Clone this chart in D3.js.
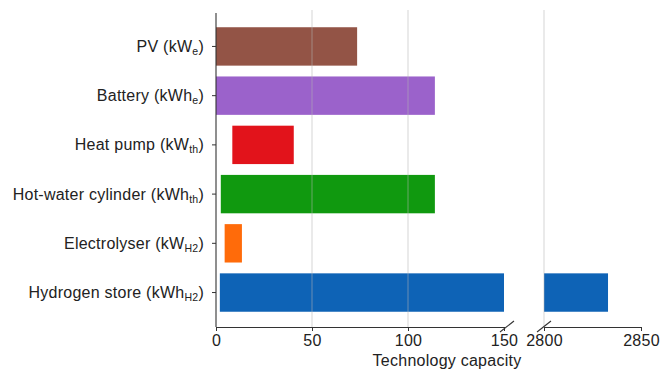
<!DOCTYPE html>
<html>
<head>
<meta charset="utf-8">
<script src="https://cdn.jsdelivr.net/npm/d3@7"></script>
<style>
  html, body { margin: 0; padding: 0; background: #fff; }
  svg { display: block; font-family: "Liberation Sans", Arial, Helvetica, sans-serif; }
</style>
</head>
<body>
<svg id="chart" width="660" height="373"></svg>
<script>
// Technology capacity ranges (minimum to maximum) per component
const technologies = ["PV", "Battery", "Heat pump", "Hot-water cylinder", "Electrolyser", "Hydrogen store"];
const unitBase = ["kW", "kWh", "kW", "kWh", "kW", "kWh"];
const unitSub = ["e", "e", "th", "th", "H2", "H2"];
const capacityMin = [0, 0, 8.5, 2.5, 4.5, 2];
const capacityMax = [73.5, 114, 40.5, 114, 13.5, 2833];
const barColors = ["#935446", "#9b62cb", "#e2131b", "#10990f", "#ff6b0a", "#0e63b6"];

// Broken x axis: two segments sharing the same scale
const leftTicks = [0, 50, 100, 150];
const rightTicks = [2800, 2850];
const leftDomain = [0, 150];
const rightDomain = [2800, 2850];
const gridValues = [50, 100, 2800];

const svg = d3.select("#chart");
const plotTop = 11, plotBottom = 327;
const xL = d3.scaleLinear().domain(leftDomain).range([216, 504]);
const xR = d3.scaleLinear().domain(rightDomain).range([544, 641]);
const y = d3.scaleLinear().domain([-0.72, 5.7]).range([plotTop, plotBottom]);
const barH = 0.78;
const textColor = "#222";
const fontSize = 16;
const letterSpacing = 0.25;

// bars, left segment
const idx = d3.range(technologies.length);
svg.append("g").selectAll("rect").data(idx).join("rect")
  .attr("x", i => xL(Math.max(capacityMin[i], leftDomain[0])))
  .attr("width", i => xL(Math.min(capacityMax[i], leftDomain[1])) - xL(Math.max(capacityMin[i], leftDomain[0])))
  .attr("y", i => y(i - barH / 2))
  .attr("height", i => y(barH) - y(0))
  .attr("fill", i => barColors[i]);

// bars, right segment (only those reaching beyond the break)
svg.append("g").selectAll("rect").data(idx.filter(i => capacityMax[i] > rightDomain[0])).join("rect")
  .attr("x", i => xR(Math.max(capacityMin[i], rightDomain[0])))
  .attr("width", i => xR(Math.min(capacityMax[i], rightDomain[1])) - xR(Math.max(capacityMin[i], rightDomain[0])))
  .attr("y", i => y(i - barH / 2))
  .attr("height", i => y(barH) - y(0))
  .attr("fill", i => barColors[i]);

// gridlines, drawn translucent over the bars
const gridG = svg.append("g");
gridValues.forEach(v => {
  const x = v >= rightDomain[0] ? xR(v) : xL(v);
  gridG.append("line")
    .attr("x1", x).attr("x2", x).attr("y1", plotTop - 1).attr("y2", plotBottom)
    .attr("stroke", "#b4b4b4").attr("stroke-opacity", 0.55).attr("stroke-width", 1);
});

// bottom axes
function bottomAxis(scale, ticks) {
  const g = svg.append("g").attr("transform", `translate(0,${plotBottom})`)
    .call(d3.axisBottom(scale).tickValues(ticks).tickFormat(d3.format("d"))
      .tickSize(4).tickPadding(4).tickSizeOuter(0));
  g.select(".domain").attr("stroke", "#333").attr("stroke-width", 1.1);
  g.selectAll(".tick line").attr("stroke", "#333");
  g.selectAll(".tick text").attr("fill", textColor).attr("font-size", fontSize)
    .attr("letter-spacing", letterSpacing)
    .attr("font-family", "Liberation Sans, Arial, sans-serif");
  return g;
}
bottomAxis(xL, leftTicks);
bottomAxis(xR, rightTicks);

// break marks
[xL(leftDomain[1]) + 3, xR(rightDomain[0])].forEach(cx => {
  svg.append("line")
    .attr("x1", cx - 7).attr("y1", plotBottom + 5)
    .attr("x2", cx + 7).attr("y2", plotBottom - 6)
    .attr("stroke", "#333").attr("stroke-width", 1.1);
});

// left axis with category labels
const yAxisG = svg.append("g").attr("transform", `translate(${xL(0)},0)`);
yAxisG.append("line").attr("x1", 0).attr("x2", 0).attr("y1", plotTop + 2).attr("y2", plotBottom)
  .attr("stroke", "#333").attr("stroke-width", 1.1);
idx.forEach(i => {
  const yc = y(i);
  yAxisG.append("line").attr("x1", -4).attr("x2", 0).attr("y1", yc).attr("y2", yc)
    .attr("stroke", "#333");
  const t = yAxisG.append("text")
    .attr("x", -12).attr("y", yc).attr("dy", "0.35em")
    .attr("text-anchor", "end").attr("fill", textColor).attr("font-size", fontSize)
    .attr("letter-spacing", letterSpacing);
  t.append("tspan").text(`${technologies[i]} (${unitBase[i]}`);
  t.append("tspan").attr("font-size", fontSize * 0.66).attr("dy", 3).text(unitSub[i]);
  t.append("tspan").attr("dy", -3).text(")");
});

// x axis title
svg.append("text")
  .attr("x", 447).attr("y", 366)
  .attr("text-anchor", "middle").attr("fill", textColor).attr("font-size", fontSize)
  .attr("letter-spacing", letterSpacing)
  .text("Technology capacity");
</script>
</body>
</html>
